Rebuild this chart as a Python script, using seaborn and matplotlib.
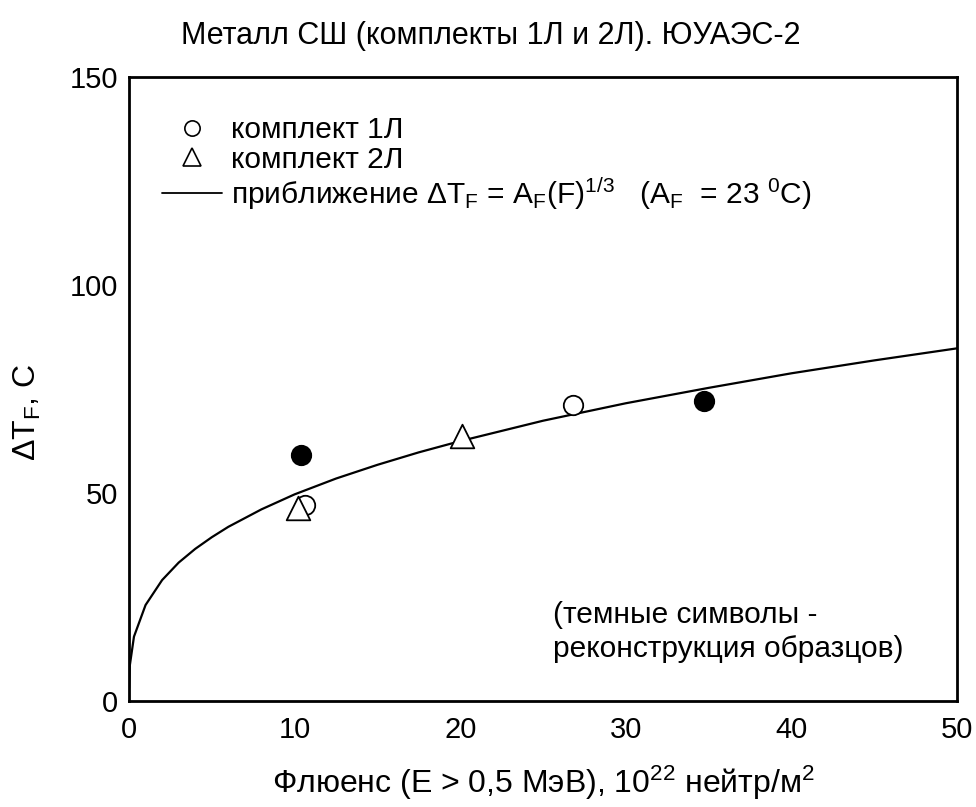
import matplotlib
matplotlib.use("Agg")
import matplotlib.pyplot as plt
from matplotlib.lines import Line2D
from matplotlib.ticker import MultipleLocator
import seaborn as sns
import pandas as pd

# ---- data ----
set1_x = [10.6, 26.8]          # комплект 1Л (open circles)
set1_y = [47.0, 71.2]
set2_x = [10.2, 20.1]          # комплект 2Л (open triangles)
set2_y = [46.4, 63.7]
recon_x = [10.4, 34.7]         # reconstructed specimens (filled circles)
recon_y = [59.1, 72.1]
fit_x = [0, 0.05, 0.3, 1, 2, 3, 4, 5, 6, 8, 10, 12.5, 15, 17.5, 20, 25, 30, 35, 40, 45, 50]
fit_y = [3, 8.5, 15.4, 23, 29, 33.2, 36.5, 39.3, 41.8, 46.0, 49.6, 53.4, 56.7, 59.7,
         62.4, 67.3, 71.5, 75.2, 78.7, 81.8, 84.7]

title = "Металл СШ (комплекты 1Л и 2Л). ЮУАЭС-2"
xlabel = r"Флюенс (E > 0,5 МэВ), 10$^{22}$ нейтр/м$^{2}$"
ylabel = r"$\Delta$T$_{F}$, C"
leg1 = "комплект 1Л"
leg2 = "комплект 2Л"
leg3 = r"приближение $\Delta$T$_{F}$ = A$_{F}$(F)$^{1/3}$   (A$_{F}$  = 23 $^{0}$C)"
note = "(темные символы -\nреконструкция образцов)"

sns.set_theme(style="white")
plt.rcParams["font.family"] = ["Liberation Sans", "DejaVu Sans"]
plt.rcParams["mathtext.fontset"] = "custom"
plt.rcParams["mathtext.rm"] = "Liberation Sans"
plt.rcParams["mathtext.it"] = "Liberation Sans"
plt.rcParams["mathtext.default"] = "regular"
plt.rcParams["text.color"] = "black"

fig = plt.figure(figsize=(9.76, 8.07), dpi=100)
ax = fig.add_axes([129/976, 1-700.7/807, (957-129)/976, (700.7-76.7)/807])

df_fit = pd.DataFrame({"x": fit_x, "y": fit_y})
sns.lineplot(data=df_fit, x="x", y="y", ax=ax, color="black", linewidth=1.6, estimator=None, sort=False)

df1 = pd.DataFrame({"x": set1_x, "y": set1_y})
df2 = pd.DataFrame({"x": set2_x, "y": set2_y})
dfr = pd.DataFrame({"x": recon_x, "y": recon_y})
sns.scatterplot(data=df1, x="x", y="y", ax=ax, marker="o", s=14**2, facecolor="white",
                edgecolor="black", linewidth=1.3, zorder=3)
sns.scatterplot(data=df2, x="x", y="y", ax=ax, marker="^", s=17**2, facecolor="white",
                edgecolor="black", linewidth=1.3, zorder=4)
sns.scatterplot(data=dfr, x="x", y="y", ax=ax, marker="o", s=14**2, facecolor="black",
                edgecolor="black", linewidth=1.3, zorder=3)

ax.set_xlim(0, 50)
ax.set_ylim(0, 150)
ax.xaxis.set_major_locator(MultipleLocator(10))
ax.xaxis.set_minor_locator(MultipleLocator(2.5))
ax.yaxis.set_major_locator(MultipleLocator(50))
ax.yaxis.set_minor_locator(MultipleLocator(10))
ax.tick_params(which="both", direction="in", top=False, right=False, width=1.5,
               color="black", labelsize=21, labelcolor="black")
ax.tick_params(which="major", length=8.5, pad=8)
ax.tick_params(axis="x", which="major", pad=11)
ax.tick_params(which="minor", length=4.3)
for sp in ax.spines.values():
    sp.set_visible(True)
    sp.set_color("black")
    sp.set_linewidth(2)

ax.set_xlabel("")
ax.set_ylabel("")
fig.text(543/976, 1-783/807, xlabel, ha="center", va="center", fontsize=23, color="black")
fig.text(27/976, 1-412/807, ylabel, ha="center", va="center", rotation=90, fontsize=23, color="black")
fig.text(491/976, 1-36/807, title, ha="center", va="center", fontsize=22, color="black")

handles = [
    Line2D([], [], marker="o", linestyle="none", markersize=11, markerfacecolor="white",
           markeredgecolor="black", markeredgewidth=1.2),
    Line2D([], [], marker="^", linestyle="none", markersize=13, markerfacecolor="white",
           markeredgecolor="black", markeredgewidth=1.2),
    Line2D([], [], color="black", linewidth=1.3),
]
leg = ax.legend(handles, [leg1, leg2, leg3], loc="upper left", bbox_to_anchor=(0.04, 0.937),
                frameon=False, fontsize=21.5, handlelength=2.0, handletextpad=0.3,
                labelspacing=0.05, borderaxespad=0, borderpad=0, labelcolor="black")

ax.text(553/976, 1-632/807, note, transform=fig.transFigure, ha="left", va="center",
        fontsize=21.5, linespacing=1.3, color="black")

fig.savefig("out.png", dpi=100)
